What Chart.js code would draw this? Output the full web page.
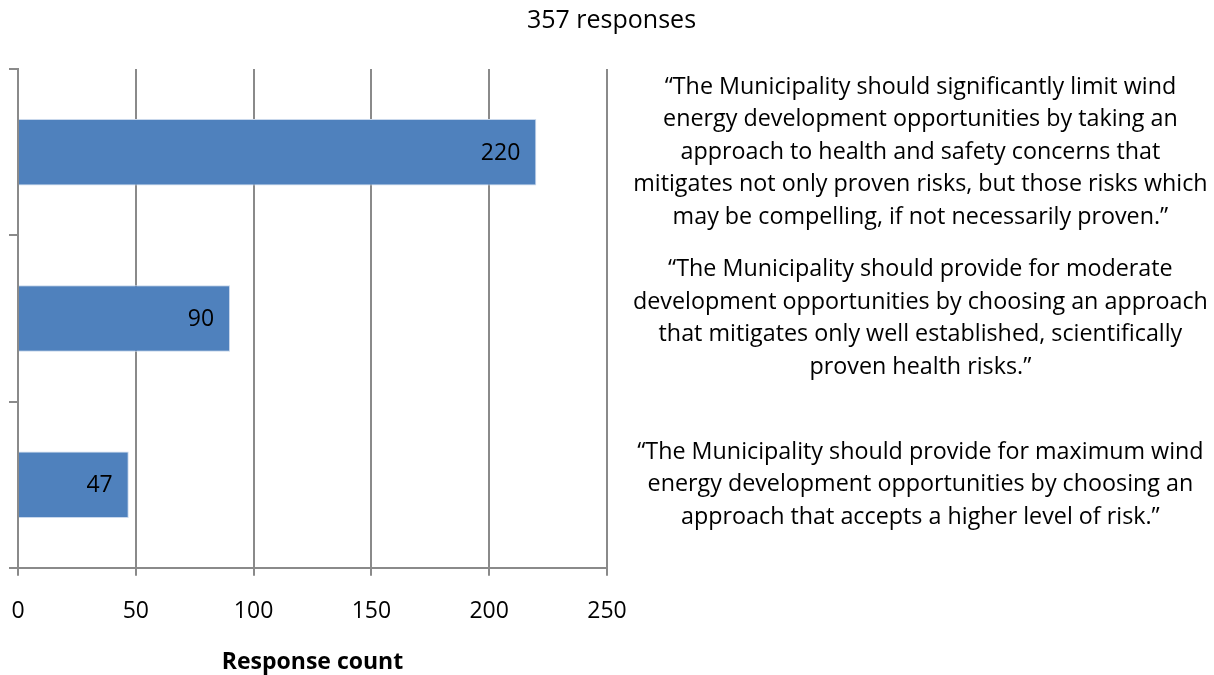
<!DOCTYPE html>
<html>
<head>
<meta charset="utf-8">
<script src="https://cdn.jsdelivr.net/npm/chart.js@4.4.1/dist/chart.umd.min.js"></script>
<style>
  html, body { margin: 0; padding: 0; background: #fff; }
  canvas { display: block; }
</style>
</head>
<body>
<canvas id="responsesChart" width="1214" height="675"></canvas>
<script>
// values
const categories = ['Significantly limit', 'Moderate', 'Maximum'];
const responseCounts = [220, 90, 47];
const statementLines = [
  ['\u201cThe Municipality should significantly limit wind',
   'energy development opportunities by taking an',
   'approach to health and safety concerns that',
   'mitigates not only proven risks, but those risks which',
   'may be compelling, if not necessarily proven.\u201d'],
  ['\u201cThe Municipality should provide for moderate',
   'development opportunities by choosing an approach',
   'that mitigates only well established, scientifically',
   'proven health risks.\u201d'],
  ['\u201cThe Municipality should provide for maximum wind',
   'energy development opportunities by choosing an',
   'approach that accepts a higher level of risk.\u201d']
];
const xTicks = [0, 50, 100, 150, 200, 250];
const chartTitle = '357 responses';
const xAxisTitle = 'Response count';

const FONT = "'Open Sans', 'DejaVu Sans', sans-serif";
const GRID = '#8a8a8a';

// value labels inside the bar end, like the spreadsheet original
const barValueLabels = {
  id: 'barValueLabels',
  afterDatasetsDraw(chart) {
    const ctx = chart.ctx;
    const meta = chart.getDatasetMeta(0);
    ctx.save();
    ctx.font = `23px ${FONT}`;
    ctx.fillStyle = '#000';
    ctx.textAlign = 'right';
    ctx.textBaseline = 'middle';
    meta.data.forEach((bar, i) => {
      ctx.fillText(String(responseCounts[i]), bar.x - 16, bar.y + 1);
    });
    ctx.restore();
  }
};

new Chart(document.getElementById('responsesChart'), {
  type: 'bar',
  data: {
    labels: categories,
    datasets: [{
      data: responseCounts,
      backgroundColor: '#4f81bd',
      borderColor: '#c9d8ec',
      borderWidth: 1,
      categoryPercentage: 1,
      barPercentage: 0.4
    }]
  },
  plugins: [barValueLabels],
  options: {
    indexAxis: 'y',
    responsive: false,
    animation: false,
    layout: { padding: { left: 9, right: 0, top: 0, bottom: 0 } },
    plugins: {
      legend: { display: false },
      tooltip: { enabled: false },
      title: {
        display: true,
        text: chartTitle,
        color: '#000',
        font: { family: FONT, size: 25, weight: 'normal' },
        padding: { top: 6, bottom: 33 }
      }
    },
    scales: {
      x: {
        type: 'linear',
        position: 'bottom',
        min: xTicks[0],
        max: xTicks[xTicks.length - 1],
        ticks: {
          stepSize: xTicks[1] - xTicks[0],
          color: '#000',
          padding: 22,
          font: { family: FONT, size: 23 }
        },
        grid: { color: GRID, lineWidth: 2, tickLength: 8 },
        border: { color: GRID, width: 2 },
        title: {
          display: true,
          text: xAxisTitle,
          color: '#000',
          font: { family: FONT, size: 23, weight: 'bold', lineHeight: 1.05 },
          padding: { top: 3.4, bottom: 0 }
        },
        afterFit(scale) {
          scale.paddingLeft = 0;
          scale.paddingRight = 0;
        }
      },
      y: {
        type: 'category',
        position: 'left',
        offset: true,
        ticks: { display: false },
        grid: { offset: true, drawOnChartArea: false, drawTicks: true, tickLength: 9, color: GRID, lineWidth: 2 },
        border: { color: GRID, width: 2 },
        afterFit(scale) { scale.width = 9; }
      },
      statements: {
        type: 'category',
        position: 'right',
        labels: statementLines,
        offset: true,
        grid: { display: false },
        border: { display: false },
        ticks: {
          autoSkip: false,
          crossAlign: 'center',
          padding: 18,
          color: '#000',
          font: { family: FONT, size: 23.3, lineHeight: 1.395 }
        },
        afterFit(scale) {
          scale.width = 607;
          scale.paddingTop = 0;
          scale.paddingBottom = 0;
        }
      }
    }
  }
});
</script>
</body>
</html>
